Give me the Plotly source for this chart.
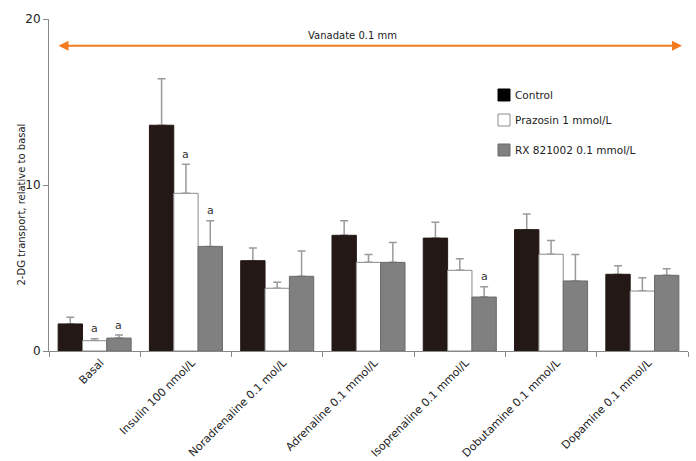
import plotly.graph_objects as go

categories = ["Basal", "Insulin 100 nmol/L", "Noradrenaline 0.1 mol/L", "Adrenaline 0.1 mmol/L",
              "Isoprenaline 0.1 mmol/L", "Dobutamine 0.1 mmol/L", "Dopamine 0.1 mmol/L"]
series_names = ["Control", "Prazosin 1 mmol/L", "RX 821002 0.1 mmol/L"]
control = [1.63, 13.6, 5.44, 6.97, 6.8, 7.31, 4.62]
control_err = [0.4, 2.8, 0.76, 0.88, 0.95, 0.94, 0.52]
prazosin = [0.62, 9.5, 3.78, 5.34, 4.86, 5.83, 3.61]
prazosin_err = [0.12, 1.75, 0.36, 0.48, 0.7, 0.82, 0.8]
rx = [0.78, 6.3, 4.5, 5.34, 3.25, 4.22, 4.56]
rx_err = [0.18, 1.55, 1.52, 1.2, 0.62, 1.6, 0.4]
# significance marks: (series index, category index)
sig_marks = [(1, 0), (2, 0), (1, 1), (2, 1), (2, 4)]

values = [control, prazosin, rx]
errors = [control_err, prazosin_err, rx_err]
fills = ["#231815", "#ffffff", "#808080"]
lines = ["#231815", "#8a8a8a", "#6a6a6a"]

W, H = 696, 461
L, R, T, B = 49, 8, 19, 110
pw, ph = W - L - R, H - T - B

def px(x):
    return (x - L) / pw

def py(y):
    return (H - B - y) / ph

fig = go.Figure()
# error bars first (transparent carrier bars), so the visible bars hide the lower cap
for i in range(3):
    fig.add_trace(go.Bar(
        x=categories, y=values[i], name=series_names[i], showlegend=False,
        offsetgroup=str(i), hoverinfo="skip",
        marker=dict(color="rgba(0,0,0,0)", line=dict(width=0)),
        error_y=dict(type="data", symmetric=False, array=errors[i],
                     color="#9a9a9a", thickness=1.5, width=4),
    ))
for i in range(3):
    fig.add_trace(go.Bar(
        x=categories, y=values[i], name=series_names[i], showlegend=False,
        offsetgroup=str(i),
        marker=dict(color=fills[i], line=dict(color=lines[i], width=1)),
    ))

bar_px = pw / len(categories) * 0.8 / 3
for s, c in sig_marks:
    fig.add_annotation(x=categories[c], y=values[s][c] + errors[s][c], text="a",
                       showarrow=False, xshift=(s - 1) * bar_px, yshift=10,
                       font=dict(size=11, color="#333"))

# manual legend
leg_rows = [95, 120, 150]
for i in range(3):
    yc = leg_rows[i]
    fig.add_shape(type="rect", xref="paper", yref="paper",
                  x0=px(498), x1=px(510), y0=py(yc + 6), y1=py(yc - 6),
                  fillcolor=fills[i] if i != 0 else "#000000",
                  line=dict(color=lines[i] if i != 0 else "#000000", width=1))
    fig.add_annotation(x=px(513), y=py(yc), xref="paper", yref="paper", text=series_names[i],
                       showarrow=False, xanchor="left", yanchor="middle",
                       font=dict(size=10.5, color="#222"))

fig.add_annotation(x=px(682), y=py(45.7), xref="x domain", yref="y domain",
                   ax=px(57), ay=py(45.7), axref="x domain", ayref="y domain",
                   showarrow=True, arrowhead=2, arrowside="end+start",
                   arrowsize=1, arrowwidth=2, arrowcolor="#F47B20", text="")
fig.add_annotation(x=px(352), y=py(28), xref="paper", yref="paper", text="Vanadate 0.1 mm",
                   showarrow=False, font=dict(size=10, color="#222"))
fig.add_annotation(x=px(13), y=py(205), xref="paper", yref="paper",
                   text="2-DG transport, relative to basal", textangle=-90,
                   showarrow=False, font=dict(size=10, color="#222"))

fig.update_layout(
    width=W, height=H, margin=dict(l=L, r=R, t=T, b=B, autoexpand=False),
    paper_bgcolor="white", plot_bgcolor="white",
    font=dict(family="DejaVu Sans", size=11, color="#222"),
    barmode="group", bargap=0.2, bargroupgap=0,
    showlegend=False,
    xaxis=dict(tickangle=-45, showline=True, linecolor="#888", linewidth=1,
               ticks="outside", tickson="boundaries", ticklen=5, tickcolor="#888",
               showgrid=False, automargin=False, tickfont=dict(size=11),
               ticklabelshift=6),
    yaxis=dict(range=[0, 20], tickvals=[0, 10, 20], showline=True, linecolor="#888", linewidth=1,
               ticks="outside", ticklen=5, tickcolor="#888", showgrid=False, zeroline=False,
               automargin=False, tickfont=dict(size=12)),
)

fig.write_html("out.html", config={"displayModeBar": False},
               post_script="document.body.style.margin='0';")
